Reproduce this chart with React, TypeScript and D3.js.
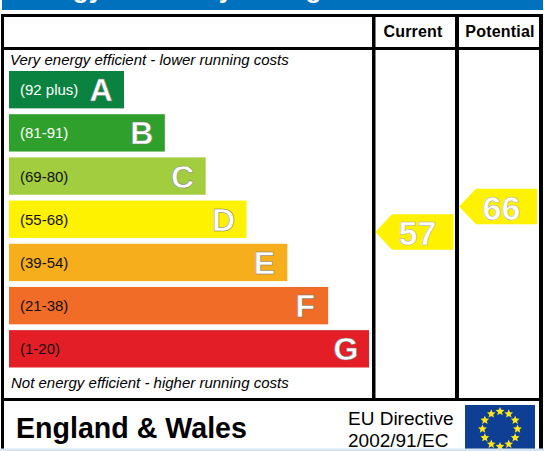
import React from "react";
import * as d3 from "d3";

const bands = ["A", "B", "C", "D", "E", "F", "G"];
const ranges = ["(92 plus)", "(81-91)", "(69-80)", "(55-68)", "(39-54)", "(21-38)", "(1-20)"];
const colors = ["#0a8341", "#2fa02b", "#a1cd3e", "#fff200", "#f7ae1d", "#f06c27", "#e31e26"];
const ratings = [
  { label: "Current", value: 57 },
  { label: "Potential", value: 66 },
];
const title = "Energy Efficiency Rating";
const topNote = "Very energy efficient - lower running costs";
const bottomNote = "Not energy efficient - higher running costs";
const region = "England & Wales";
const directive = ["EU Directive", "2002/91/EC"];

const font = "'Liberation Sans', Arial, sans-serif";

function starPath(cx: number, cy: number, r: number) {
  const pts: [number, number][] = d3.range(10).map((i) => {
    const a = (-90 + i * 36) * (Math.PI / 180);
    const rr = i % 2 === 0 ? r : r * 0.45;
    return [cx + rr * Math.cos(a), cy + rr * Math.sin(a)];
  });
  return (d3.line()(pts) ?? "") + "Z";
}

export default function App() {
  const y = d3.scaleBand<string>().domain(bands).range([71, 367.5]).paddingInner(0.135).paddingOuter(0);
  const xEnd = d3.scaleLinear().domain([0, 6]).range([124, 369]);
  const left = 9;
  const rowY = d3.scaleLinear().domain([57, 66]).range([232, 206.5]);
  const cols = [
    { x0: 375.5, xS: 392, x1: 453.5, cx: 417.5 },
    { x0: 459, xS: 476, x1: 537, cx: 501.5 },
  ];
  const stars = d3.range(12).map((i) => {
    const a = (i * 30 - 90) * (Math.PI / 180);
    return [500 + 17.5 * Math.cos(a), 429 + 17.5 * Math.sin(a)];
  });
  const black = "#000";
  return (
    <svg
      width={544}
      height={451}
      viewBox="0 0 544 451"
      style={{ position: "absolute", left: 0, top: 0, display: "block", background: "#fff", fontFamily: font }}
    >
      <rect x={2} y={0} width={541} height={10} fill="#0071bc" />
      <clipPath id="band"><rect x={2} y={0} width={541} height={10} /></clipPath>
      <text x={15} y={-2.5} fontSize={26} fontWeight="bold" fill="#fff" clipPath="url(#band)">{title}</text>

      {/* frame */}
      <rect x={1} y={14} width={542} height={3} fill={black} />
      <rect x={1} y={14} width={3} height={437} fill={black} />
      <rect x={4} y={47} width={539} height={3} fill={black} />
      <rect x={4} y={398} width={539} height={3} fill={black} />
      <rect x={372} y={14} width={3.5} height={385} fill={black} />
      <rect x={455} y={14} width={4} height={385} fill={black} />
      <rect x={539} y={14} width={4} height={437} fill={black} />

      {/* headers */}
      {ratings.map((r, i) => (
        <text key={r.label} x={[413, 500][i]} y={37} fontSize={16} fontWeight="bold" textAnchor="middle" fill="#000" letterSpacing={0.2}>{r.label}</text>
      ))}

      <text x={10} y={65} fontSize={15} fontStyle="italic" fill="#000">{topNote}</text>

      {bands.map((b, i) => {
        const top = y(b) as number;
        const h = y.bandwidth();
        const right = xEnd(i);
        return (
          <g key={b}>
            <rect x={left} y={top} width={right - left} height={h} fill={colors[i]} />
            <text x={20} y={top + h / 2 + 5.5} fontSize={15} fill={i < 2 ? "#fff" : "#111"}>{ranges[i]}</text>
            <text
              x={right - 23}
              y={top + h / 2 + 11.5}
              fontSize={32}
              fontWeight="bold"
              textAnchor="middle"
              fill="#fff"
              stroke="#777"
              strokeWidth={0.5}
            >{b}</text>
          </g>
        );
      })}

      <text x={11} y={388} fontSize={15} fontStyle="italic" fill="#000">{bottomNote}</text>

      {ratings.map((r, i) => {
        const c = cols[i];
        const cy = rowY(r.value);
        const hh = 17.75;
        const path = d3.line()([
          [c.x0, cy],
          [c.xS, cy - hh],
          [c.x1, cy - hh],
          [c.x1, cy + hh],
          [c.xS, cy + hh],
        ]) + "Z";
        return (
          <g key={r.label}>
            <path d={path} fill="#fff200" />
            <text x={c.cx} y={cy + 13} fontSize={34} fontWeight="bold" textAnchor="middle" fill="#fff" stroke="#aaa" strokeWidth={0.5}>{r.value}</text>
          </g>
        );
      })}

      <text x={16} y={438} fontSize={28.6} fontWeight="bold" fill="#000">{region}</text>
      <text x={348} y={425} fontSize={19} fill="#000">{directive[0]}</text>
      <text x={348} y={447} fontSize={19} fill="#000">{directive[1]}</text>

      <rect x={465} y={405} width={70} height={46} fill="#0f3f94" />
      {stars.map((s, i) => (
        <path key={i} d={starPath(s[0], s[1], 4.6)} fill="#ffe81a" />
      ))}
      <rect x={0} y={448.5} width={544} height={2.5} fill="#d6e4f5" />
    </svg>
  );
}
